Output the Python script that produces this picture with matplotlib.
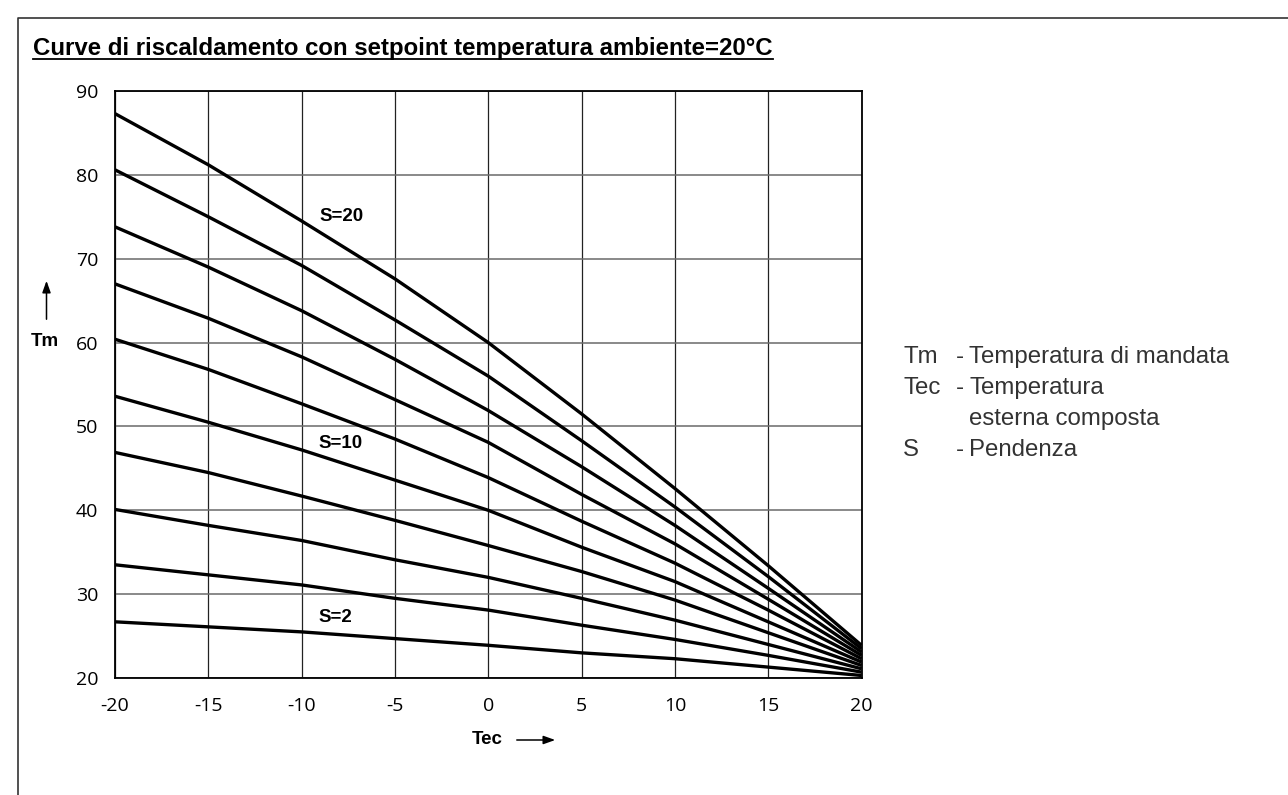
import matplotlib.pyplot as plt
from matplotlib.lines import Line2D

# outdoor temperature (Tec) where the curves were read
tec = [-20, -15, -10, -5, 0, 5, 10, 15, 20]

# flow temperature (Tm) for each slope S
s2 = [26.7, 26.1, 25.5, 24.7, 23.9, 23.0, 22.3, 21.3, 20.3]
s4 = [33.5, 32.3, 31.1, 29.5, 28.1, 26.3, 24.6, 22.7, 20.7]
s6 = [40.1, 38.2, 36.4, 34.1, 32.0, 29.5, 26.9, 24.0, 21.1]
s8 = [46.9, 44.5, 41.7, 38.8, 35.8, 32.7, 29.3, 25.4, 21.5]
s10 = [53.6, 50.5, 47.2, 43.6, 40.0, 35.6, 31.5, 26.7, 21.9]
s12 = [60.4, 56.8, 52.7, 48.5, 43.9, 38.7, 33.7, 28.1, 22.3]
s14 = [67.0, 62.9, 58.3, 53.2, 48.1, 41.9, 36.0, 29.4, 22.7]
s16 = [73.8, 69.0, 63.8, 58.0, 51.9, 45.2, 38.2, 30.7, 23.1]
s18 = [80.6, 75.0, 69.2, 62.7, 56.0, 48.3, 40.4, 32.1, 23.5]
s20 = [87.3, 81.2, 74.5, 67.6, 60.0, 51.5, 42.6, 33.4, 23.9]
curves = [s2, s4, s6, s8, s10, s12, s14, s16, s18, s20]

x_ticks = [-20, -15, -10, -5, 0, 5, 10, 15, 20]
y_ticks = [20, 30, 40, 50, 60, 70, 80, 90]

curve_labels = ["S=20", "S=10", "S=2"]
curve_label_pos = [(-7.85, 75.0), (-7.9, 48.0), (-8.2, 27.2)]

legend_keys = ["Tm", "Tec", "", "S"]
legend_texts = ["Temperatura di mandata", "Temperatura", "esterna composta", "Pendenza"]

W, H = 1288, 795
fig = plt.figure(figsize=(W / 100, H / 100), dpi=100)
ax = fig.add_axes([115 / W, 1 - 678 / H, (861.5 - 115) / W, (678 - 91) / H])

for y in curves:
    ax.plot(tec, y, color="black", lw=2.4, solid_capstyle="butt", zorder=3)

ax.set_xlim(-20, 20)
ax.set_ylim(20, 90)
ax.set_xticks(x_ticks)
ax.set_yticks(y_ticks)
ax.set_xticklabels([str(v) for v in x_ticks], family="Open Sans", fontsize=14)
ax.set_yticklabels([str(v) for v in y_ticks], family="Open Sans", fontsize=14)
ax.tick_params(axis="x", length=0, pad=14)
ax.tick_params(axis="y", length=0, pad=12)
ax.grid(axis="x", color="#222222", lw=0.9)
ax.grid(axis="y", color="#6a6a6a", lw=1.1)
for sp in ax.spines.values():
    sp.set_linewidth(1.3)
    sp.set_color("black")

for lab, (lx, ly) in zip(curve_labels, curve_label_pos):
    ax.text(lx, ly, lab, ha="center", va="center", fontsize=13.5,
            fontweight="bold", family="Liberation Sans", zorder=4)

# axis names with arrows
fig.text(45 / W, 1 - 342 / H, "Tm", ha="center", va="center", fontsize=13.5,
         fontweight="bold", family="Liberation Sans")
ax.annotate("", xy=(46.5 / W, 1 - 278 / H), xytext=(46.5 / W, 1 - 322 / H),
            xycoords="figure fraction", textcoords="figure fraction",
            arrowprops=dict(arrowstyle="-|>,head_length=0.7,head_width=0.25",
                            color="black", lw=1.1))
fig.text(487 / W, 1 - 739 / H, "Tec", ha="center", va="center", fontsize=13.5,
         fontweight="bold", family="Liberation Sans")
ax.annotate("", xy=(558 / W, 1 - 740 / H), xytext=(514 / W, 1 - 740 / H),
            xycoords="figure fraction", textcoords="figure fraction",
            arrowprops=dict(arrowstyle="-|>,head_length=0.7,head_width=0.25",
                            color="black", lw=1.1))

# legend block
row_base = [363, 394, 425, 456]
leg_style = dict(fontsize=17.3, family="Liberation Sans", color="#333333",
                 va="baseline", ha="left")
for key, txt, ry in zip(legend_keys, legend_texts, row_base):
    if key:
        fig.text(903 / W, 1 - ry / H, key, **leg_style)
        fig.text(956 / W, 1 - ry / H, "-", **leg_style)
    fig.text(969 / W, 1 - ry / H, txt, **leg_style)

# title with underline
title = fig.text(33 / W, 1 - 55 / H,
                 "Curve di riscaldamento con setpoint temperatura ambiente=20°C",
                 ha="left", va="baseline", fontsize=17.3, fontweight="bold",
                 family="Liberation Sans")
fig.canvas.draw()
bb = title.get_window_extent().transformed(fig.transFigure.inverted())
fig.add_artist(Line2D([bb.x0, bb.x1], [1 - 58.5 / H, 1 - 58.5 / H],
                      transform=fig.transFigure, color="black", lw=1.3))

# outer frame (left and top edges)
fig.add_artist(Line2D([18 / W, 18 / W, 1], [0, 1 - 18 / H, 1 - 18 / H],
                      transform=fig.transFigure, color="#333333", lw=1.2))

fig.savefig("out.png", dpi=100)
